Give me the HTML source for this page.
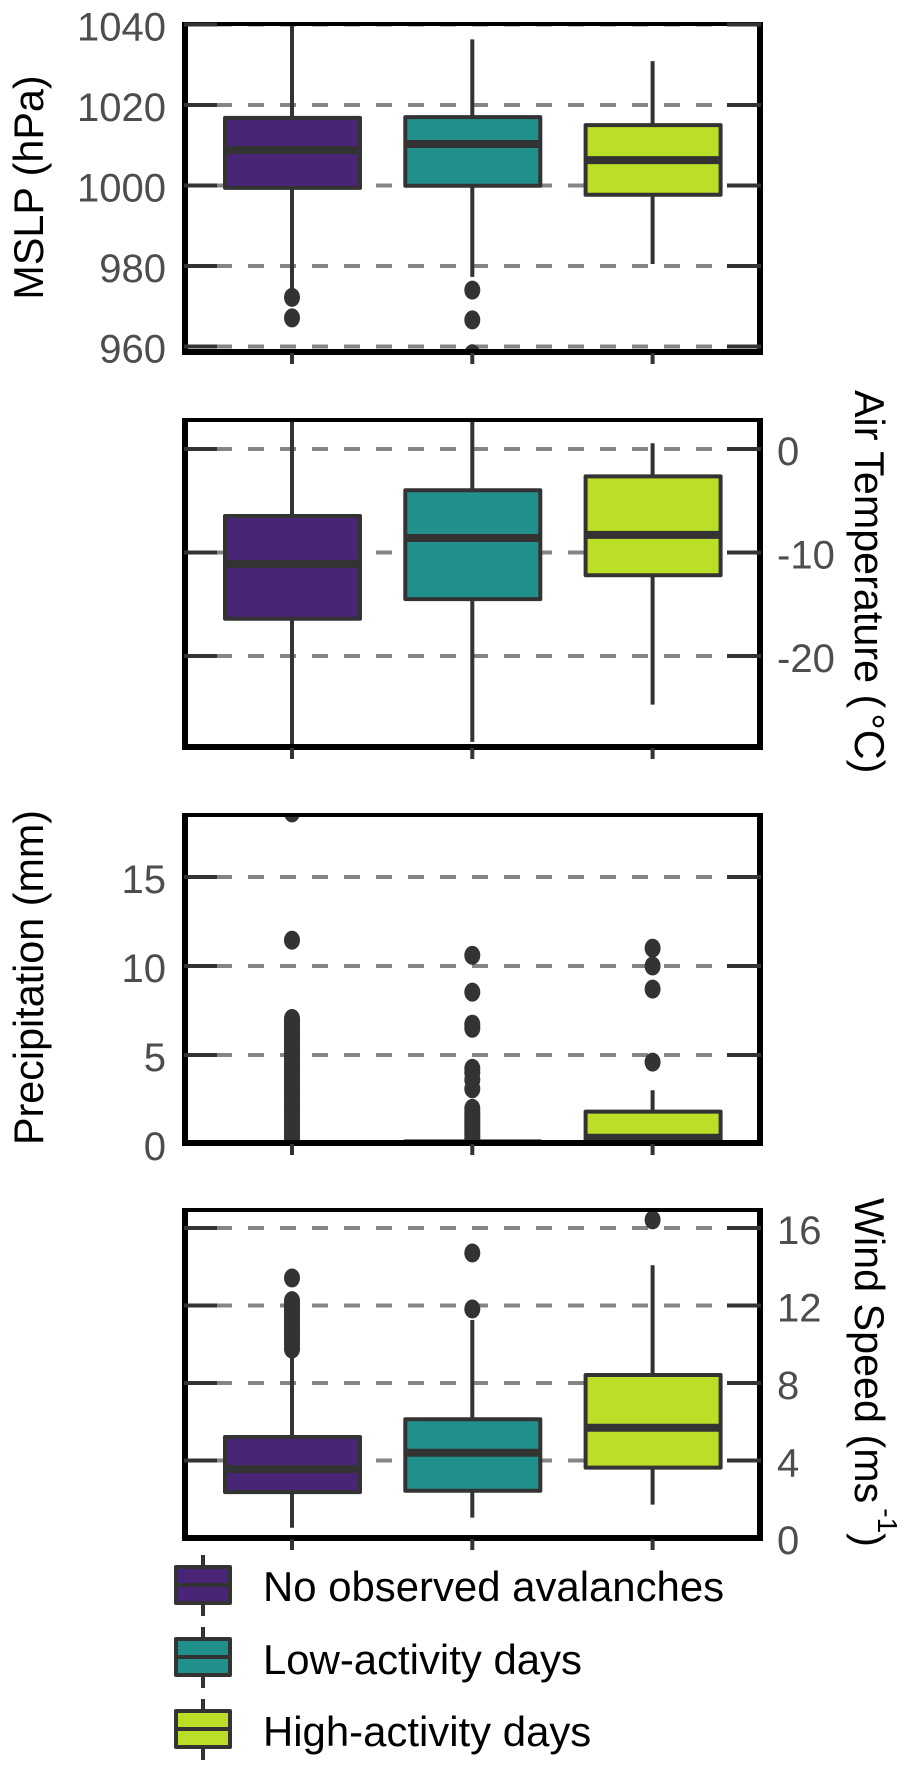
<!DOCTYPE html>
<html lang="en">
<head>
<meta charset="utf-8">
<title>Weather variables by avalanche activity</title>
<style>
html,body{margin:0;padding:0;background:#fff;width:912px;height:1772px;overflow:hidden}
svg{display:block}
text{font-family:"Liberation Sans",Arial,sans-serif;font-size:41.3px}
</style>
</head>
<body>
<svg id="chart" xmlns="http://www.w3.org/2000/svg" width="912" height="1772" viewBox="0 0 912 1772">
  <rect x="0" y="0" width="912" height="1772" fill="#ffffff"/>
  <g id="panels"></g>

  <text transform="translate(43 187.5) rotate(-90)" text-anchor="middle" fill="#000">MSLP (hPa)</text>
  <text transform="translate(855 390) rotate(90)" fill="#000">Air Temperature (<tspan dx="5">°C</tspan>)</text>
  <text transform="translate(43 977.5) rotate(-90)" text-anchor="middle" fill="#000">Precipitation (mm)</text>
  <text transform="translate(855 1198) rotate(90)" fill="#000">Wind Speed (ms<tspan font-size="28" dy="-23" dx="5">-1</tspan><tspan dy="23">)</tspan></text>

  <g>
    <g>
      <line x1="203" x2="203" y1="1555" y2="1616" stroke="#333" stroke-width="4"/>
      <rect x="176" y="1567" width="54" height="36" fill="#482576" stroke="#333" stroke-width="4" stroke-linejoin="round"/>
      <line x1="176" x2="230" y1="1585" y2="1585" stroke="#333" stroke-width="4"/>
      <text x="263" y="1601" font-size="41.9" style="font-size:41.9px" fill="#000">No observed avalanches</text>
    </g>
    <g>
      <line x1="203" x2="203" y1="1627" y2="1688" stroke="#333" stroke-width="4"/>
      <rect x="176" y="1639" width="54" height="36" fill="#21908c" stroke="#333" stroke-width="4" stroke-linejoin="round"/>
      <line x1="176" x2="230" y1="1657" y2="1657" stroke="#333" stroke-width="4"/>
      <text x="263" y="1674" font-size="41.9" style="font-size:41.9px" fill="#000">Low-activity days</text>
    </g>
    <g>
      <line x1="203" x2="203" y1="1699" y2="1760" stroke="#333" stroke-width="4"/>
      <rect x="176" y="1711" width="54" height="36" fill="#bbdf27" stroke="#333" stroke-width="4" stroke-linejoin="round"/>
      <line x1="176" x2="230" y1="1729" y2="1729" stroke="#333" stroke-width="4"/>
      <text x="263" y="1746" font-size="41.9" style="font-size:41.9px" fill="#000">High-activity days</text>
    </g>
  </g>
</svg>
<script>
/* ---- data ---- */
const categories = ['No observed avalanches', 'Low-activity days', 'High-activity days'];
const categoryFills = ['#482576', '#21908c', '#bbdf27'];

const mslpTicks = [1040, 1020, 1000, 980, 960];
const mslpQ1 = [999.4, 999.95, 997.7];
const mslpMedian = [1008.8, 1010.3, 1006.3];
const mslpQ3 = [1016.8, 1017.0, 1015.0];
const mslpLow = [974.3, 977.3, 980.5];
const mslpHigh = [1045, 1036.3, 1030.9];
const mslpOutliers = [[972.2, 967.1], [974.0, 966.6, 958.2], []];

const tempTicks = [0, -10, -20];
const tempQ1 = [-16.4, -14.5, -12.2];
const tempMedian = [-11.1, -8.6, -8.3];
const tempQ3 = [-6.47, -3.99, -2.64];
const tempLow = [-31, -28.3, -24.7];
const tempHigh = [5, 5, 0.55];
const tempOutliers = [[], [], []];

const precipTicks = [15, 10, 5];
const precipQ1 = [0, 0, 0];
const precipMedian = [0, 0, 0.35];
const precipQ3 = [0, 0.15, 1.82];
const precipLow = [0, 0, 0];
const precipHigh = [0, 0.2, 3.02];
const precipOutliers = [
  [18.6, 11.45, 7.05, 6.9, 6.8, 6.65, 6.5, 6.4, 6.3, 6.2, 6.05, 5.95, 5.8, 5.7, 5.6, 5.5, 5.35, 5.2, 5.1, 5.0, 4.9, 4.8, 4.7, 4.6, 4.45, 4.35, 4.2, 4.1, 4.0, 3.9, 3.75, 3.6, 3.5, 3.4, 3.25, 3.1, 3.0, 2.9, 2.75, 2.6, 2.5, 2.4, 2.25, 2.1, 2.0, 1.9, 1.75, 1.6, 1.5, 1.4, 1.25, 1.1, 1.0, 0.9, 0.75, 0.6, 0.5, 0.4, 0.3, 0.2],
  [10.6, 8.53, 6.73, 6.5, 4.25, 4.0, 3.6, 3.1, 2.0, 1.8, 1.65, 1.5, 1.35, 1.2, 1.05, 0.9, 0.75, 0.6, 0.45, 0.3, 0.15],
  [11.0, 10.0, 8.7, 4.6]
];

const windTicks = [16, 12, 8, 4];
const windQ1 = [2.37, 2.44, 3.63];
const windMedian = [3.56, 4.40, 5.69];
const windQ3 = [5.21, 6.13, 8.41];
const windLow = [0.53, 1.05, 1.72];
const windHigh = [9.5, 11.25, 14.08];
const windOutliers = [
  [13.42, 12.25, 12.15, 12.0, 11.9, 11.75, 11.6, 11.45, 11.3, 11.15, 11.0, 10.85, 10.7, 10.55, 10.4, 10.25, 10.1, 9.95, 9.75],
  [14.71, 11.82],
  [16.42]
];

/* ---- axis functions ---- */
function linear(v0, p0, v1, p1) {
  return function (v) { return p0 + (v - v0) * (p1 - p0) / (v1 - v0); };
}
const xScale = linear(0, 292, 2, 652.6);
const yMslp = linear(1040, 24.5, 960, 346.5);
const yTemp = linear(0, 449, -20, 656);
const yPrecip = linear(0, 1144, 15, 877);
const yWind = linear(0, 1538, 16, 1228);

const SVGNS = 'http://www.w3.org/2000/svg';
const DARK = '#333333';
const PLOT_LEFT = 182;
const PLOT_RIGHT = 763;
const BOX_HALF = 67.5;

function make(tag, attrs, parent) {
  const node = document.createElementNS(SVGNS, tag);
  for (const k in attrs) node.setAttribute(k, attrs[k]);
  parent.appendChild(node);
  return node;
}

function drawPanel(p) {
  const root = document.getElementById('panels');
  const g = make('g', {}, root);
  
  

  const clipId = p.name + '-clip';
  const defs = make('clipPath', { id: clipId }, g);
  make('rect', { x: PLOT_LEFT, y: p.top, width: PLOT_RIGHT - PLOT_LEFT, height: p.bottom - p.top + 1 }, defs);

  /* dashed gridlines */
  p.ticks.forEach(function (t) {
    const grid = make('line', { x1: 184, x2: 761, y1: p.y(t), y2: p.y(t), stroke: '#858585', 'stroke-width': 4, 'stroke-dasharray': '16 16' }, g);
    
    
  });

  const marks = make('g', { 'clip-path': 'url(#' + clipId + ')' }, g);
  
  

  categories.forEach(function (cat, i) {
    const cx = xScale(i);

    const whisker = make('line', { x1: cx, x2: cx, y1: p.y(p.high[i]), y2: p.y(p.low[i]), stroke: DARK, 'stroke-width': 4 }, marks);
    
    

    const yTop = p.y(p.q3[i]);
    const yBot = p.y(p.q1[i]);
    const box = make('rect', { x: cx - BOX_HALF + 0.5, y: yTop, width: BOX_HALF * 2, height: yBot - yTop, fill: categoryFills[i], stroke: DARK, 'stroke-width': 4, 'stroke-linejoin': 'round' }, marks);
    
    

    const med = make('line', { x1: cx - BOX_HALF + 0.5, x2: cx + BOX_HALF + 0.5, y1: p.y(p.median[i]), y2: p.y(p.median[i]), stroke: DARK, 'stroke-width': 8 }, marks);
    
    

    p.outliers[i].forEach(function (v) {
      const dot = make('ellipse', { cx: cx, cy: p.y(v), rx: 8, ry: 9.5, fill: DARK }, marks);
      
      
    });
  });

  /* panel border */
  const borderRects = [
    [PLOT_LEFT, p.top, PLOT_RIGHT - PLOT_LEFT, 4],
    [PLOT_LEFT, p.bottom, PLOT_RIGHT - PLOT_LEFT, 6],
    [PLOT_LEFT, p.top, 6, p.bottom + 6 - p.top],
    [PLOT_RIGHT - 6, p.top, 6, p.bottom + 6 - p.top]
  ];
  borderRects.forEach(function (r) {
    const side = make('rect', { x: r[0], y: r[1], width: r[2], height: r[3], fill: '#000' }, g);
    
    
  });

  /* inward y ticks on both sides + labels */
  p.ticks.forEach(function (t, k) {
    const left = make('line', { x1: 184, x2: 217, y1: p.y(t), y2: p.y(t), stroke: DARK, 'stroke-width': 4 }, g);
    
    
    const right = make('line', { x1: 727, x2: 761, y1: p.y(t), y2: p.y(t), stroke: DARK, 'stroke-width': 4 }, g);
    
    
  });
  p.labels.forEach(function (t) {
    const attrs = { y: p.y(t) + 16, fill: '#4d4d4d', style: 'font-size:40px' };
    if (p.side === 'left') { attrs.x = 166; attrs['text-anchor'] = 'end'; } else { attrs.x = 777; }
    const lab = make('text', attrs, g);
    lab.textContent = String(t);
    
    
  });

  /* x ticks below panel */
  categories.forEach(function (cat, i) {
    const tick = make('line', { x1: xScale(i), x2: xScale(i), y1: p.bottom + 4, y2: p.bottom + 15, stroke: DARK, 'stroke-width': 4 }, g);
    
    
  });
}

drawPanel({ name: 'mslp', top: 22, bottom: 349, y: yMslp, side: 'left', ticks: mslpTicks, labels: mslpTicks,
  q1: mslpQ1, median: mslpMedian, q3: mslpQ3, low: mslpLow, high: mslpHigh, outliers: mslpOutliers });
drawPanel({ name: 'air-temperature', top: 418, bottom: 744, y: yTemp, side: 'right', ticks: tempTicks, labels: tempTicks,
  q1: tempQ1, median: tempMedian, q3: tempQ3, low: tempLow, high: tempHigh, outliers: tempOutliers });
drawPanel({ name: 'precipitation', top: 813, bottom: 1140, y: yPrecip, side: 'left', ticks: precipTicks, labels: precipTicks.concat([0]),
  q1: precipQ1, median: precipMedian, q3: precipQ3, low: precipLow, high: precipHigh, outliers: precipOutliers });
drawPanel({ name: 'wind-speed', top: 1208, bottom: 1535, y: yWind, side: 'right', ticks: windTicks, labels: windTicks.concat([0]),
  q1: windQ1, median: windMedian, q3: windQ3, low: windLow, high: windHigh, outliers: windOutliers });
</script>
</body>
</html>
